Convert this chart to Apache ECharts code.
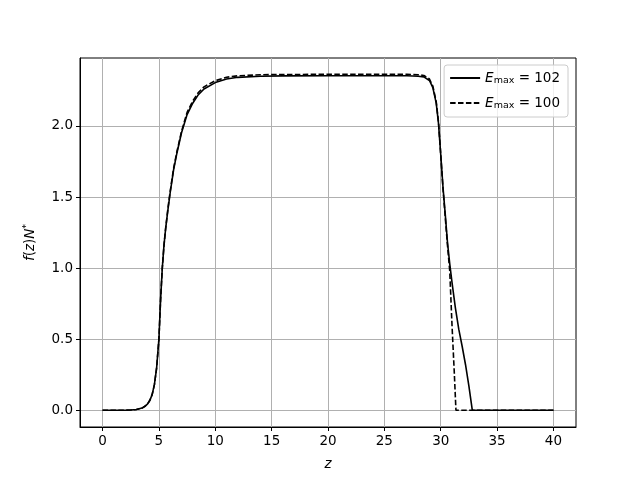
<!DOCTYPE html>
<html>
<head>
<meta charset="utf-8">
<script src="https://cdn.jsdelivr.net/npm/echarts@6/dist/echarts.min.js"></script>
<style>
    html, body { margin: 0; padding: 0; background: #fff; }
    #chart { width: 640px; height: 480px; }
</style>
</head>
<body>
<div id="chart"></div>
<script>
    // values
    const zSolid = [0, 1, 2, 2.5, 3, 3.5, 3.8, 4.0, 4.2, 4.4, 4.6, 4.8, 5.0, 5.15, 5.3, 5.45, 5.6, 5.8, 6.0, 6.3, 6.6, 7.0, 7.5, 8.0, 8.5, 9, 10, 11, 12, 14, 16, 20, 24, 27, 28, 28.5, 29, 29.3, 29.6, 29.8, 30.0, 30.2, 30.4, 30.6, 30.8, 31.0, 31.3, 31.6, 31.9, 32.2, 32.5, 32.8, 33, 40]
    const fSolid = [0, 0, 0, 0.002, 0.005, 0.015, 0.03, 0.045, 0.07, 0.11, 0.18, 0.3, 0.5, 0.78, 1.0, 1.16, 1.28, 1.41, 1.53, 1.69, 1.81, 1.95, 2.08, 2.16, 2.22, 2.26, 2.305, 2.33, 2.342, 2.35, 2.352, 2.353, 2.353, 2.353, 2.35, 2.345, 2.32, 2.27, 2.16, 2.02, 1.8, 1.57, 1.38, 1.18, 1.03, 0.9, 0.72, 0.57, 0.45, 0.32, 0.17, 0, 0, 0]
    const zDashed = [0, 1, 2, 2.5, 3, 3.5, 3.8, 4.0, 4.2, 4.4, 4.6, 4.8, 5.0, 5.15, 5.3, 5.45, 5.6, 5.8, 6.0, 6.3, 6.6, 7.0, 7.5, 8.0, 8.5, 9, 10, 11, 12, 14, 16, 20, 24, 27, 28, 28.5, 29, 29.3, 29.6, 29.8, 30.0, 30.2, 30.4, 30.6, 30.8, 31.0, 31.2, 31.35, 32, 40]
    const fDashed = [0, 0, 0, 0.002, 0.005, 0.015, 0.03, 0.045, 0.07, 0.11, 0.18, 0.3, 0.5, 0.78, 1.0, 1.16, 1.28, 1.42, 1.54, 1.7, 1.82, 1.96, 2.095, 2.175, 2.235, 2.275, 2.318, 2.343, 2.353, 2.36, 2.362, 2.363, 2.363, 2.363, 2.36, 2.355, 2.33, 2.28, 2.17, 2.03, 1.8, 1.56, 1.36, 1.16, 0.98, 0.6, 0.27, 0, 0, 0]
    const xTicks = [0, 5, 10, 15, 20, 25, 30, 35, 40]
    const yTicks = [0, 0.5, 1.0, 1.5, 2.0]
    const names = ['E102', 'E100']
    const legendText = {
        E102: '{i|E}{sub|max}{n| = 102}',
        E100: '{i|E}{sub|max}{n| = 100}'
    }

    const zip = (xs, ys) => xs.map((x, i) => [x, ys[i]])
    const font = 'DejaVu Sans'

    let myChart = echarts.init(document.getElementById('chart'))
    let option = {
        animation: false,
        backgroundColor: '#fff',
        textStyle: {fontFamily: font, color: '#000'},
        grid: {
            left: 80, right: 64, top: 58, bottom: 53,
            show: true, borderColor: '#000', borderWidth: 1, backgroundColor: 'transparent'
        },
        legend: {
            orient: 'vertical',
            right: 72, top: 65,
            itemWidth: 30, itemHeight: 10, itemGap: 10,
            padding: [6, 8, 6, 5],
            backgroundColor: 'rgba(255,255,255,0.8)',
            borderColor: '#ccc', borderWidth: 1, borderRadius: 3,
            data: names,
            itemStyle: {opacity: 0}, // hide the symbol, keep the line sample
            formatter: name => legendText[name],
            textStyle: {
                fontFamily: font, fontSize: 13.5, color: '#000',
                rich: {
                    i: {fontFamily: font, fontStyle: 'italic', fontSize: 13.5},
                    sub: {fontFamily: font, fontSize: 9.5, verticalAlign: 'bottom', padding: [6, 0, 0, 0]},
                    n: {fontFamily: font, fontSize: 13.5}
                }
            }
        },
        xAxis: {
            type: 'value',
            min: -2, max: 42,
            name: 'z',
            nameLocation: 'middle',
            nameGap: 30,
            nameTextStyle: {fontFamily: font, fontStyle: 'italic', fontSize: 13.5, color: '#000'},
            axisLine: {show: true, onZero: false, lineStyle: {color: '#000'}},
            axisTick: {show: true, inside: false, length: 4, customValues: xTicks, lineStyle: {color: '#000'}},
            axisLabel: {customValues: xTicks, fontFamily: font, fontSize: 13.5, color: '#000', margin: 7},
            splitLine: {show: true, lineStyle: {color: '#b0b0b0', width: 1}}
        },
        yAxis: {
            type: 'value',
            min: -0.118, max: 2.478,
            name: '{i|f}({i|z}){i|N}{sup|*}',
            nameLocation: 'middle',
            nameRotate: 90,
            nameGap: 42,
            nameTextStyle: {
                fontFamily: font, fontSize: 13.5, color: '#000',
                rich: {
                    i: {fontFamily: font, fontStyle: 'italic', fontSize: 13.5},
                    sup: {fontFamily: font, fontSize: 9.5, verticalAlign: 'top', padding: [0, 0, 6, 0]}
                }
            },
            axisLine: {show: true, onZero: false, lineStyle: {color: '#000'}},
            axisTick: {show: true, inside: false, length: 4, customValues: yTicks, lineStyle: {color: '#000'}},
            axisLabel: {
                customValues: yTicks, fontFamily: font, fontSize: 13.5, color: '#000', margin: 7,
                formatter: v => v.toFixed(1)
            },
            splitLine: {show: true, lineStyle: {color: '#b0b0b0', width: 1}}
        },
        series: [
            {
                name: 'E102',
                type: 'line',
                showSymbol: false,
                symbol: 'none',
                data: zip(zSolid, fSolid),
                lineStyle: {color: '#000', width: 1.6},
                itemStyle: {color: '#000'}
            },
            {
                name: 'E100',
                type: 'line',
                showSymbol: false,
                symbol: 'none',
                data: zip(zDashed, fDashed),
                lineStyle: {color: '#000', width: 1.6, type: [5.5, 2.4]},
                itemStyle: {color: '#000'}
            }
        ]
    }
    myChart.setOption(option)
</script>
</body>
</html>
